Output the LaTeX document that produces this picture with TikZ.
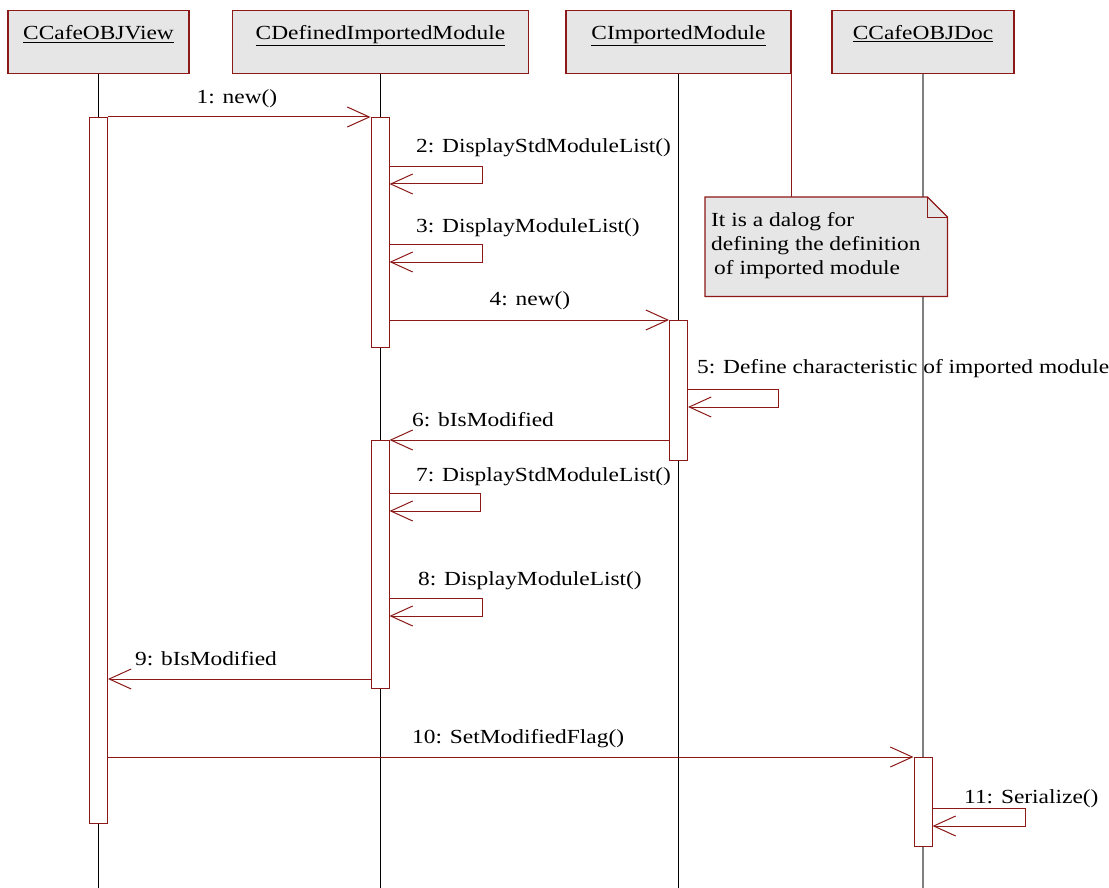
\documentclass[tikz,border=0pt]{standalone}
\usepackage{fontspec}
\setmainfont{Liberation Serif}[FakeStretch=1.17]
\usetikzlibrary{arrows.meta,calc}
\definecolor{dred}{RGB}{140,24,24}
\definecolor{boxgray}{RGB}{230,230,230}
\begin{document}
\begin{tikzpicture}[x=1pt, y=-1pt, font=\fontsize{20}{24}\selectfont,
  >={Straight Barb[length=22pt,width=20pt]},
  obj/.style={draw=dred, fill=boxgray, line width=1.3pt, minimum height=63pt, inner sep=0pt, anchor=north},
  bar/.style={draw=dred, fill=white, line width=1pt, minimum width=18pt, inner sep=0pt, anchor=north},
  msg/.style={->, draw=dred, line width=1pt},
  lbl/.style={inner sep=0pt, anchor=base west}]
\useasboundingbox (0,0) rectangle (1109,888);

% objects
\node[obj, minimum width=181pt] (view) at (98.5,10) {};
\node[obj, minimum width=296pt] (defmod) at (380.5,10) {};
\node[obj, minimum width=225pt] (impmod) at (678.5,10) {};
\node[obj, minimum width=182pt] (doc) at (923,10) {};
\foreach \o/\t in {view/CCafeOBJView, defmod/CDefinedImportedModule,
  impmod/CImportedModule, doc/CCafeOBJDoc}
{
    \node[inner sep=0pt, anchor=base] (\o-t) at ($(\o.north)+(0,30)$) {\underline{\t}};
}

% lifelines
\foreach \o in {view,defmod,impmod}
{
    \draw[line width=1pt] (\o.south)--(\o.south |- 0,888);
}
\draw[line width=1.3pt, gray] (doc.south)--(doc.south |- 0,888);

% note
\node[inner sep=0pt, anchor=north west, minimum width=242pt, minimum height=99pt] (memo) at (705,197) {};
\draw[dred, line width=1pt] (impmod.south east)--(impmod.south east |- memo.north);
\draw[dred, fill=boxgray, line width=1.2pt] (memo.north west)--($(memo.north east)+(-20,0)$)
    --($(memo.north east)+(0,20)$)--(memo.south east)--(memo.south west)--cycle;
\draw[dred, line width=1pt] ($(memo.north east)+(-20,0)$)--($(memo.north east)+(-20,20)$)--($(memo.north east)+(0,20)$);
\node[lbl] (memo-t1) at (711,226) {It is a dalog for};
\node[lbl] (memo-t2) at (711,250) {defining the definition};
\node[lbl] (memo-t3) at (714,274) {of imported module};

% activations
\node[bar, minimum height=706pt] (a1) at (98.5,117) {};
\node[bar, minimum height=230pt] (b1) at (380,117) {};
\node[bar, minimum height=140pt] (c1) at (678.5,320) {};
\node[bar, minimum height=248pt] (b2) at (380,440) {};
\node[bar, minimum height=89pt] (d1) at (923,757) {};

% messages
\draw[msg] (a1.north east)--(b1.north west);
\node[inner sep=0pt, anchor=base] (m1) at (237,104) {1: new()};
\draw[msg] (b1.east |- 0,167)--++(93,0)--++(0,17)--(b1.east |- 0,184);
\node[lbl] (m2) at (416,153) {2: DisplayStdModuleList()};
\draw[msg] (b1.east |- 0,244)--++(93,0)--++(0,18)--(b1.east |- 0,262);
\node[lbl] (m3) at (416,232) {3: DisplayModuleList()};
\draw[msg] (c1.north west -| b1.east)--(c1.north west);
\node[inner sep=0pt, anchor=base] (m4) at (530,305) {4: new()};
\draw[msg] (c1.east |- 0,389)--++(90,0)--++(0,18)--(c1.east |- 0,407);
\node[lbl] (m5) at (697,373) {5: Define characteristic of imported module};
\draw[msg] (b2.north east -| c1.west)--(b2.north east);
\node[lbl] (m6) at (412,426) {6: bIsModified};
\draw[msg] (b2.east |- 0,493)--++(91,0)--++(0,18)--(b2.east |- 0,511);
\node[lbl] (m7) at (416,481) {7: DisplayStdModuleList()};
\draw[msg] (b2.east |- 0,598)--++(93,0)--++(0,18)--(b2.east |- 0,616);
\node[lbl] (m8) at (418,585) {8: DisplayModuleList()};
\draw[msg] (b2.west |- 0,679)--(a1.east |- 0,679);
\node[lbl] (m9) at (135,665) {9: bIsModified};
\draw[msg] (d1.north west -| a1.east)--(d1.north west);
\node[lbl] (m10) at (412,743) {10: SetModifiedFlag()};
\draw[msg] (d1.east |- 0,808)--++(93,0)--++(0,18)--(d1.east |- 0,826);
\node[lbl] (m11) at (964,803) {11: Serialize()};

\end{tikzpicture}
\end{document}
